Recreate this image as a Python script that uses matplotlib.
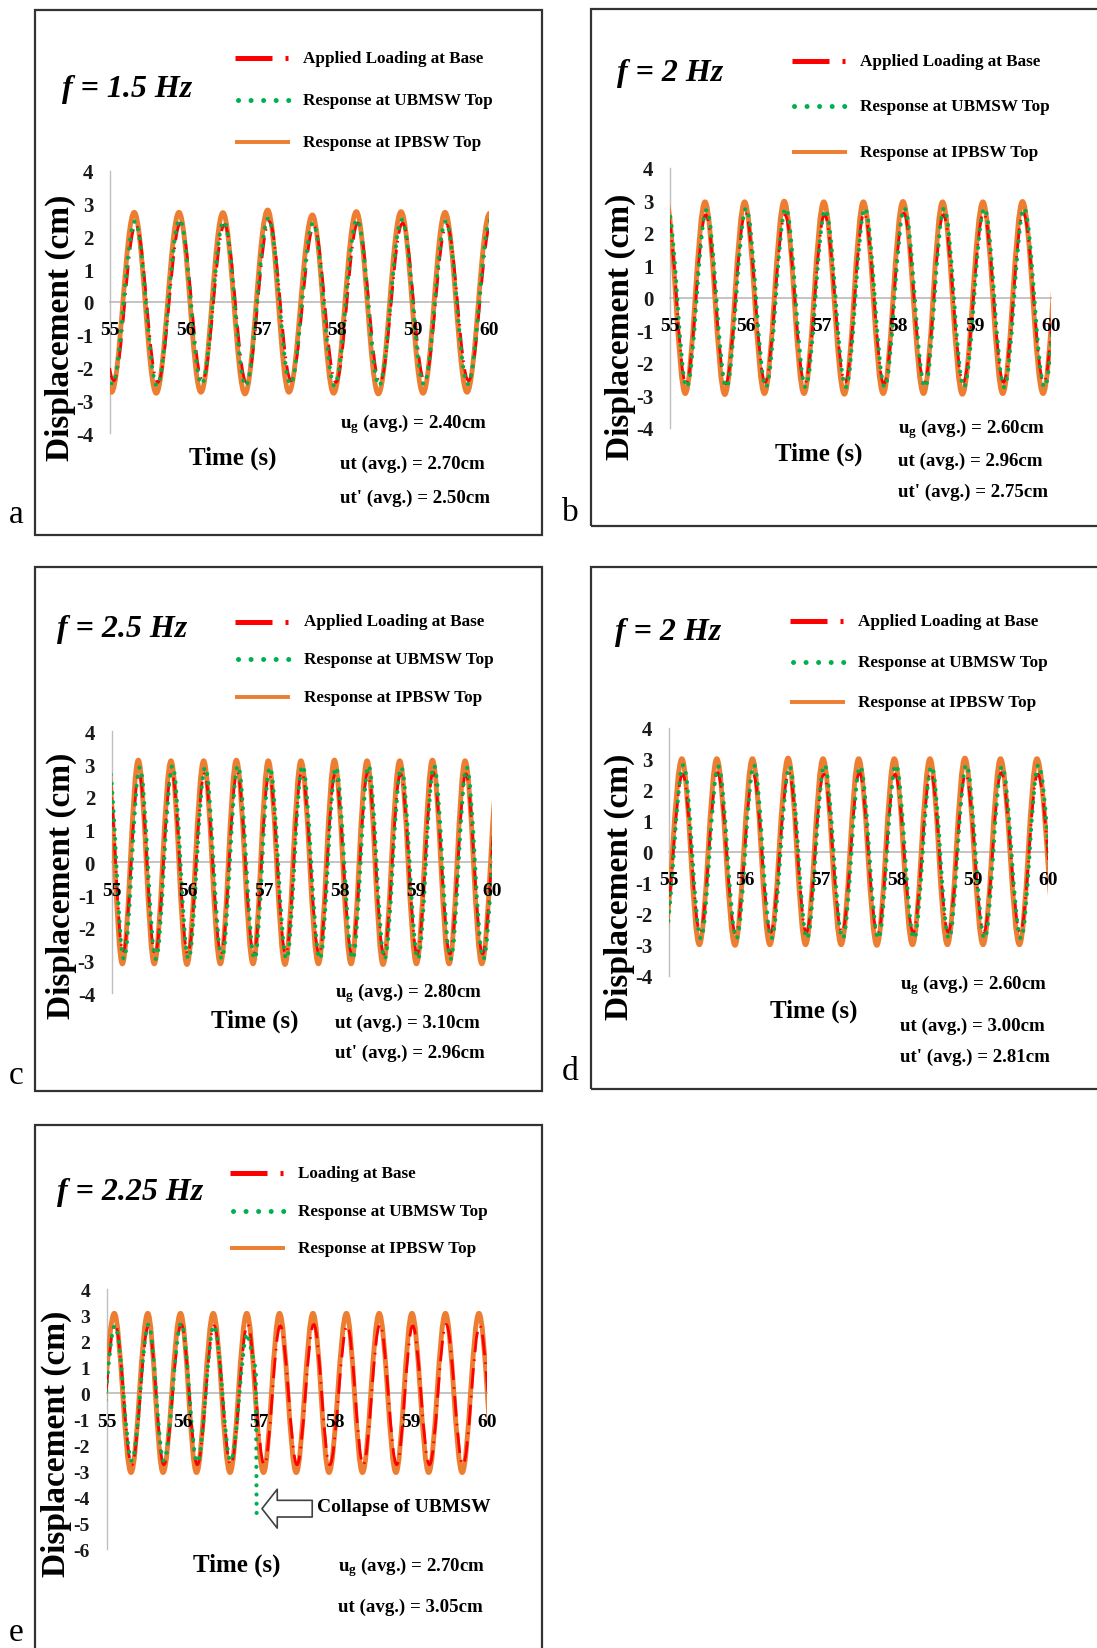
import numpy as np
import matplotlib
matplotlib.use("Agg")
import matplotlib.pyplot as plt
from matplotlib.path import Path
from matplotlib.patches import PathPatch, Rectangle
from matplotlib.lines import Line2D

# ---- data: times / values of the peaks and troughs ----
# panel a, f = 1.5 Hz
a_base_t = [54.75, 55.05, 55.34, 55.63, 55.93, 56.22, 56.51, 56.80, 57.10, 57.39,
            57.69, 57.98, 58.27, 58.56, 58.86, 59.15, 59.44, 59.73, 60.03]
a_base_v = [2.40, -2.40, 2.35, -2.45, 2.40, -2.40, 2.35, -2.45, 2.45, -2.40,
            2.30, -2.45, 2.40, -2.45, 2.40, -2.40, 2.35, -2.40, 2.40]
a_ub_t = [54.74, 55.03, 55.33, 55.62, 55.92, 56.21, 56.50, 56.79, 57.09, 57.38,
          57.68, 57.96, 58.26, 58.55, 58.85, 59.14, 59.43, 59.72, 60.02]
a_ub_v = [2.50, -2.50, 2.45, -2.55, 2.50, -2.50, 2.45, -2.55, 2.55, -2.50,
          2.40, -2.55, 2.50, -2.55, 2.50, -2.50, 2.45, -2.50, 2.50]
a_ipb_t = [54.73, 55.02, 55.32, 55.61, 55.91, 56.20, 56.49, 56.78, 57.08, 57.36,
           57.67, 57.95, 58.25, 58.54, 58.84, 59.13, 59.42, 59.71, 60.01]
a_ipb_v = [2.70, -2.75, 2.73, -2.78, 2.73, -2.75, 2.72, -2.80, 2.80, -2.75,
           2.65, -2.78, 2.75, -2.80, 2.75, -2.78, 2.73, -2.75, 2.70]

# panel b, f = 2 Hz
b_base_t = [54.96, 55.21, 55.47, 55.73, 55.99, 56.25, 56.51, 56.77, 57.03, 57.30, 57.55,
            57.81, 58.07, 58.34, 58.59, 58.85, 59.12, 59.38, 59.64, 59.91, 60.17]
b_base_v = [2.60, -2.65, 2.55, -2.65, 2.60, -2.60, 2.55, -2.65, 2.55, -2.60, 2.60,
            -2.65, 2.60, -2.60, 2.55, -2.60, 2.60, -2.60, 2.60, -2.60, 2.60]
b_ub_t = [54.97, 55.22, 55.48, 55.74, 56.00, 56.26, 56.52, 56.78, 57.04, 57.31, 57.56,
          57.82, 58.08, 58.35, 58.60, 58.86, 59.13, 59.39, 59.65, 59.92, 60.18]
b_ub_v = [2.75, -2.75, 2.70, -2.75, 2.75, -2.75, 2.75, -2.75, 2.70, -2.75, 2.75,
          -2.75, 2.75, -2.75, 2.75, -2.75, 2.75, -2.75, 2.75, -2.75, 2.75]
b_ipb_t = [54.95, 55.20, 55.46, 55.72, 55.98, 56.24, 56.50, 56.76, 57.02, 57.29, 57.54,
           57.80, 58.06, 58.33, 58.58, 58.84, 59.11, 59.37, 59.63, 59.90, 60.16]
b_ipb_v = [2.95, -2.95, 2.95, -2.98, 2.95, -2.95, 2.97, -2.95, 2.95, -2.97, 2.95,
           -2.95, 2.96, -2.95, 2.95, -2.97, 2.95, -2.95, 2.96, -2.95, 2.95]

# panel c, f = 2.5 Hz
c_base_t = [54.95, 55.15, 55.36, 55.57, 55.79, 56.00, 56.22, 56.44, 56.65, 56.87, 57.07, 57.29,
            57.50, 57.73, 57.94, 58.16, 58.37, 58.58, 58.80, 59.02, 59.23, 59.45, 59.66, 59.88, 60.11]
c_base_v = [2.80, -2.75, 2.70, -2.80, 2.75, -2.80, 2.70, -2.80, 2.75, -2.80, 2.70, -2.80,
            2.75, -2.80, 2.70, -2.80, 2.75, -2.80, 2.70, -2.80, 2.75, -2.80, 2.70, -2.80, 2.75]
c_ub_t = [54.96, 55.16, 55.37, 55.58, 55.80, 56.01, 56.23, 56.45, 56.66, 56.88, 57.08, 57.30,
          57.51, 57.74, 57.95, 58.17, 58.38, 58.59, 58.81, 59.03, 59.24, 59.46, 59.67, 59.89, 60.12]
c_ub_v = [2.95, -2.95, 2.90, -2.95, 2.95, -2.95, 2.90, -2.95, 2.95, -2.95, 2.90, -2.95,
          2.95, -2.95, 2.90, -2.95, 2.95, -2.95, 2.90, -2.95, 2.95, -2.95, 2.90, -2.95, 2.95]
c_ipb_t = [54.94, 55.14, 55.35, 55.56, 55.78, 55.99, 56.21, 56.43, 56.64, 56.86, 57.06, 57.28,
           57.49, 57.72, 57.93, 58.15, 58.36, 58.57, 58.79, 59.01, 59.22, 59.44, 59.65, 59.87, 60.10]
c_ipb_v = [3.10, -3.10, 3.12, -3.10, 3.10, -3.12, 3.10, -3.10, 3.12, -3.10, 3.10, -3.12,
           3.10, -3.10, 3.12, -3.10, 3.10, -3.12, 3.10, -3.10, 3.12, -3.10, 3.10, -3.10, 3.10]

# panel d, f = 2 Hz
d_base_t = [54.93, 55.18, 55.41, 55.64, 55.88, 56.11, 56.34, 56.58, 56.81, 57.04, 57.28, 57.51,
            57.75, 57.98, 58.22, 58.45, 58.68, 58.91, 59.15, 59.38, 59.63, 59.86, 60.13]
d_base_v = [-2.60, 2.50, -2.60, 2.55, -2.65, 2.50, -2.60, 2.55, -2.60, 2.50, -2.60, 2.55,
            -2.65, 2.50, -2.60, 2.55, -2.60, 2.50, -2.60, 2.55, -2.60, 2.50, -2.60]
d_ub_t = [54.94, 55.19, 55.42, 55.65, 55.89, 56.12, 56.35, 56.59, 56.82, 57.05, 57.29, 57.52,
          57.76, 57.99, 58.23, 58.46, 58.69, 58.92, 59.16, 59.39, 59.64, 59.87, 60.14]
d_ub_v = [-2.80, 2.80, -2.80, 2.75, -2.80, 2.80, -2.80, 2.75, -2.80, 2.80, -2.80, 2.75,
          -2.80, 2.80, -2.80, 2.75, -2.80, 2.80, -2.80, 2.75, -2.80, 2.80, -2.80]
d_ipb_t = [54.92, 55.17, 55.40, 55.63, 55.87, 56.10, 56.33, 56.57, 56.80, 57.03, 57.27, 57.50,
           57.74, 57.97, 58.21, 58.44, 58.67, 58.90, 59.14, 59.37, 59.62, 59.85, 60.12]
d_ipb_v = [-3.00, 3.00, -3.00, 3.00, -3.02, 3.00, -3.00, 3.02, -3.00, 3.00, -3.00, 3.00,
           -3.02, 3.00, -3.00, 3.00, -3.00, 3.02, -3.00, 3.00, -3.00, 3.00, -3.00]

# panel e, f = 2.25 Hz (UBMSW collapses just before 57 s)
e_base_t = [54.87, 55.11, 55.33, 55.55, 55.75, 55.98, 56.19, 56.41, 56.63, 56.85, 57.07, 57.28,
            57.50, 57.72, 57.93, 58.16, 58.37, 58.59, 58.81, 59.02, 59.24, 59.46, 59.68, 59.90, 60.12]
e_base_v = [-2.75, 2.65, -2.75, 2.60, -2.75, 2.65, -2.75, 2.60, -2.75, 2.65, -2.75, 2.60,
            -2.75, 2.65, -2.75, 2.60, -2.75, 2.65, -2.75, 2.60, -2.75, 2.65, -2.75, 2.60, -2.75]
e_ub_t = [54.87, 55.11, 55.33, 55.55, 55.75, 55.98, 56.19, 56.41, 56.63, 56.85]
e_ub_v = [-2.70, 2.60, -2.60, 2.65, -2.60, 2.70, -2.65, 2.60, -2.60, 2.30]
e_ub_drop_t = [56.96, 56.97]
e_ub_drop_v = [0.90, -4.90]
e_ipb_t = [54.86, 55.10, 55.32, 55.54, 55.74, 55.97, 56.18, 56.40, 56.62, 56.84, 57.06, 57.27,
           57.49, 57.71, 57.92, 58.15, 58.36, 58.58, 58.80, 59.01, 59.23, 59.45, 59.67, 59.89, 60.11]
e_ipb_v = [-3.05, 3.08, -3.05, 3.08, -3.05, 3.08, -3.05, 3.08, -3.05, 3.08, -3.05, 3.08,
           -3.05, 3.08, -3.05, 3.08, -3.05, 3.08, -3.05, 3.08, -3.05, 3.08, -3.05, 3.08, -3.05]

x_ticks = [55, 56, 57, 58, 59, 60]
y_ticks_4 = [-4, -3, -2, -1, 0, 1, 2, 3, 4]
y_ticks_6 = [-6, -5, -4, -3, -2, -1, 0, 1, 2, 3, 4]

titles = ["f = 1.5 Hz", "f = 2 Hz", "f = 2.5 Hz", "f = 2 Hz", "f = 2.25 Hz"]
legend_labels = ["Applied Loading at Base", "Response at UBMSW Top", "Response at IPBSW Top"]
legend_labels_e = ["Loading at Base", "Response at UBMSW Top", "Response at IPBSW Top"]
ug_vals = ["2.40", "2.60", "2.80", "2.60", "2.70"]
ut_vals = ["2.70", "2.96", "3.10", "3.00", "3.05"]
utp_vals = ["2.50", "2.75", "2.96", "2.81", None]

# ---- drawing ----
W, H = 1097, 1649
plt.rcParams["font.family"] = ["Liberation Serif", "DejaVu Serif"]
plt.rcParams["axes.unicode_minus"] = False
plt.rcParams["mathtext.fontset"] = "custom"
plt.rcParams["mathtext.rm"] = "Liberation Serif:bold"
plt.rcParams["mathtext.it"] = "Liberation Serif:bold:italic"
plt.rcParams["mathtext.bf"] = "Liberation Serif:bold"

RED, GREEN, ORANGE, GREY = "#FF0000", "#00B050", "#ED7D31", "#BFBFBF"
RED_LS = (0, (7.4, 2.6, 0.6, 2.6))

K = 1 - 2 / np.pi  # bezier handle fraction, half-wave between extrema


def wave_path(ts, vs, tail_t=(), tail_v=()):
    verts = [(ts[0], vs[0])]
    codes = [Path.MOVETO]
    for t0, v0, t1, v1 in zip(ts[:-1], vs[:-1], ts[1:], vs[1:]):
        d = t1 - t0
        verts += [(t0 + K * d, v0), (t1 - K * d, v1), (t1, v1)]
        codes += [Path.CURVE4] * 3
    for t, v in zip(tail_t, tail_v):
        verts.append((t, v))
        codes.append(Path.LINETO)
    return Path(verts, codes)


def fx(x):
    return x / W


def fy(y):
    return 1 - y / H


series = [
    [(a_base_t, a_base_v, (), ()), (a_ub_t, a_ub_v, (), ()), (a_ipb_t, a_ipb_v, (), ())],
    [(b_base_t, b_base_v, (), ()), (b_ub_t, b_ub_v, (), ()), (b_ipb_t, b_ipb_v, (), ())],
    [(c_base_t, c_base_v, (), ()), (c_ub_t, c_ub_v, (), ()), (c_ipb_t, c_ipb_v, (), ())],
    [(d_base_t, d_base_v, (), ()), (d_ub_t, d_ub_v, (), ()), (d_ipb_t, d_ipb_v, (), ())],
    [(e_base_t, e_base_v, (), ()), (e_ub_t, e_ub_v, e_ub_drop_t, e_ub_drop_v), (e_ipb_t, e_ipb_v, (), ())],
]

data_styles = [
    dict(ec=RED, lw=2.0, ls=RED_LS, capstyle="butt", zorder=3),
    dict(ec=GREEN, lw=3.0, ls=(0, (0.01, 2.2)), capstyle="round", zorder=4),
    dict(ec=ORANGE, lw=3.5, ls="-", capstyle="round", zorder=2),
]
legend_styles = [
    dict(color=RED, lw=3.6, ls=RED_LS, dash_capstyle="butt"),
    dict(color=GREEN, lw=3.6, ls=(0, (0.01, 2.5)), dash_capstyle="round"),
    dict(color=ORANGE, lw=2.8, ls="-", solid_capstyle="butt"),
]

# layout in pixels of the reference image
layout = [
    dict(ax=(110, 489, 171.6, 434.3), ylim=(-4, 4), frame=(34.7, 10.5, 541.6, 535.5), letter=(16, 515),
         title=(61.7, 89.4), leg=(235, 290, 303.3), rows=(59, 101.3, 142.9), ylab=(60, 327.8),
         time=(232.7, 458), ann=(340, (424, 464.6, 498.5))),
    dict(ax=(670, 1050.7, 168.7, 428.7), ylim=(-4, 4), frame=(591, 10.3, 1110, 527), letter=(570, 513),
         title=(616.7, 74), leg=(791.7, 846.7, 860), rows=(62, 106.7, 153.2), ylab=(620, 327),
         time=(818.3, 454.5), ann=(898.3, (428.7, 461.4, 492.4))),
    dict(ax=(111.7, 491.7, 732.3, 994.3), ylim=(-4, 4), frame=(34.7, 568, 541.6, 1091.7), letter=(16, 1076),
         title=(56.7, 629.2), leg=(235, 290, 304), rows=(622.5, 659.7, 697.5), ylab=(61, 886),
         time=(255, 1021.4), ann=(335, (992.7, 1023, 1053.5))),
    dict(ax=(669, 1048.3, 728.7, 976.7), ylim=(-4, 4), frame=(591, 568, 1110, 1089.6), letter=(570, 1072),
         title=(615, 632.3), leg=(790, 845, 858.3), rows=(622, 662.6, 702.9), ylab=(619, 887),
         time=(813.3, 1011), ann=(900, (985.3, 1026.6, 1057.6))),
    dict(ax=(106.7, 487.3, 1290.4, 1550.2), ylim=(-6, 4), frame=(34.7, 1126.4, 541.6, 1700), letter=(16, 1633),
         title=(56.7, 1192.5), leg=(230, 285, 298.3), rows=(1174, 1211.8, 1249.2), ylab=(56, 1444),
         time=(236.7, 1565.3), ann=(338.3, (1567, 1607.5))),
]

fig = plt.figure(figsize=(W / 100, H / 100), dpi=100)

for i, lay in enumerate(layout):
    x0, x1, yt, yb = lay["ax"]
    ax = fig.add_axes([fx(x0), fy(yb), (x1 - x0) / W, (yb - yt) / H])
    ax.set_xlim(55, 60)
    ax.set_ylim(*lay["ylim"])
    ax.patch.set_alpha(0)
    for (ts, vs, tt, tv), sty in zip(series[i], data_styles):
        ax.add_patch(PathPatch(wave_path(ts, vs, tt, tv), fill=False, joinstyle="round", **sty))

    for s in ("top", "right"):
        ax.spines[s].set_visible(False)
    ax.spines["left"].set_color(GREY)
    ax.spines["left"].set_linewidth(1.0)
    ax.spines["bottom"].set_position(("data", 0))
    ax.spines["bottom"].set_color(GREY)
    ax.spines["bottom"].set_linewidth(1.3)
    for s in ax.spines.values():
        s.set_zorder(1)
    ax.xaxis.set_zorder(5)
    ax.set_xticks(x_ticks)
    ax.set_xticklabels([str(t) for t in x_ticks], fontweight="bold", fontsize=14)
    small = lay["ylim"][0] == -6
    yt_vals = y_ticks_6 if small else y_ticks_4
    ax.set_yticks(yt_vals)
    ax.set_yticklabels([str(t) for t in yt_vals], fontsize=14 if small else 15,
                       color="#1a1a1a", fontweight="bold")
    ax.tick_params(axis="x", length=0, pad=14)
    ax.tick_params(axis="y", length=0, pad=12)

    # frame and panel letter
    fx0, fy0, fx1, fy1 = lay["frame"]
    fig.add_artist(Rectangle((fx(fx0), fy(fy1)), (fx1 - fx0) / W, (fy1 - fy0) / H,
                             transform=fig.transFigure, fill=False, ec="#333333", lw=1.6))
    fig.text(fx(lay["letter"][0]), fy(lay["letter"][1]), "abcde"[i], fontsize=24,
             ha="center", va="center")

    # title
    fig.text(fx(lay["title"][0]), fy(lay["title"][1]), titles[i], fontsize=23,
             fontweight="bold", fontstyle="italic", ha="left", va="center")

    # legend
    lx0, lx1, ltx = lay["leg"]
    labels = legend_labels_e if i == 4 else legend_labels
    for row, lab, lsty in zip(lay["rows"], labels, legend_styles):
        start = lx0 + 2.5 if lsty["color"] == GREEN else lx0
        fig.add_artist(Line2D([fx(start), fx(lx1)], [fy(row), fy(row)],
                              transform=fig.transFigure, **lsty))
        fig.text(fx(ltx), fy(row), lab, fontsize=12.3, fontweight="bold", ha="left", va="center")

    # axis titles
    fig.text(fx(lay["ylab"][0]), fy(lay["ylab"][1]), "Displacement (cm)", fontsize=24,
             fontweight="bold", rotation=90, ha="center", va="center")
    fig.text(fx(lay["time"][0]), fy(lay["time"][1]), "Time (s)", fontsize=18,
             fontweight="bold", ha="center", va="center")

    # averages
    ann_x, ann_rows = lay["ann"]
    lines = [r"u$_{\mathrm{g}}$ (avg.) = " + ug_vals[i] + "cm", "ut (avg.) = " + ut_vals[i] + "cm"]
    if utp_vals[i] is not None:
        lines.append("ut' (avg.) = " + utp_vals[i] + "cm")
    for row, txt in zip(ann_rows, lines):
        fig.text(fx(ann_x), fy(row), txt, fontsize=13.6, fontweight="bold", ha="left", va="center")

    if i == 4:
        ax.annotate("", xy=(57.04, -4.44), xytext=(57.70, -4.44),
                    arrowprops=dict(arrowstyle="simple,head_length=0.55,head_width=1.4,tail_width=0.6",
                                    fc="white", ec="#404040", lw=1.2, mutation_scale=20,
                                    shrinkA=0, shrinkB=0))
        fig.text(fx(316.7), fy(1508), "Collapse of UBMSW", fontsize=14, fontweight="bold",
                 ha="left", va="center")

fig.savefig("out.png", dpi=100)
